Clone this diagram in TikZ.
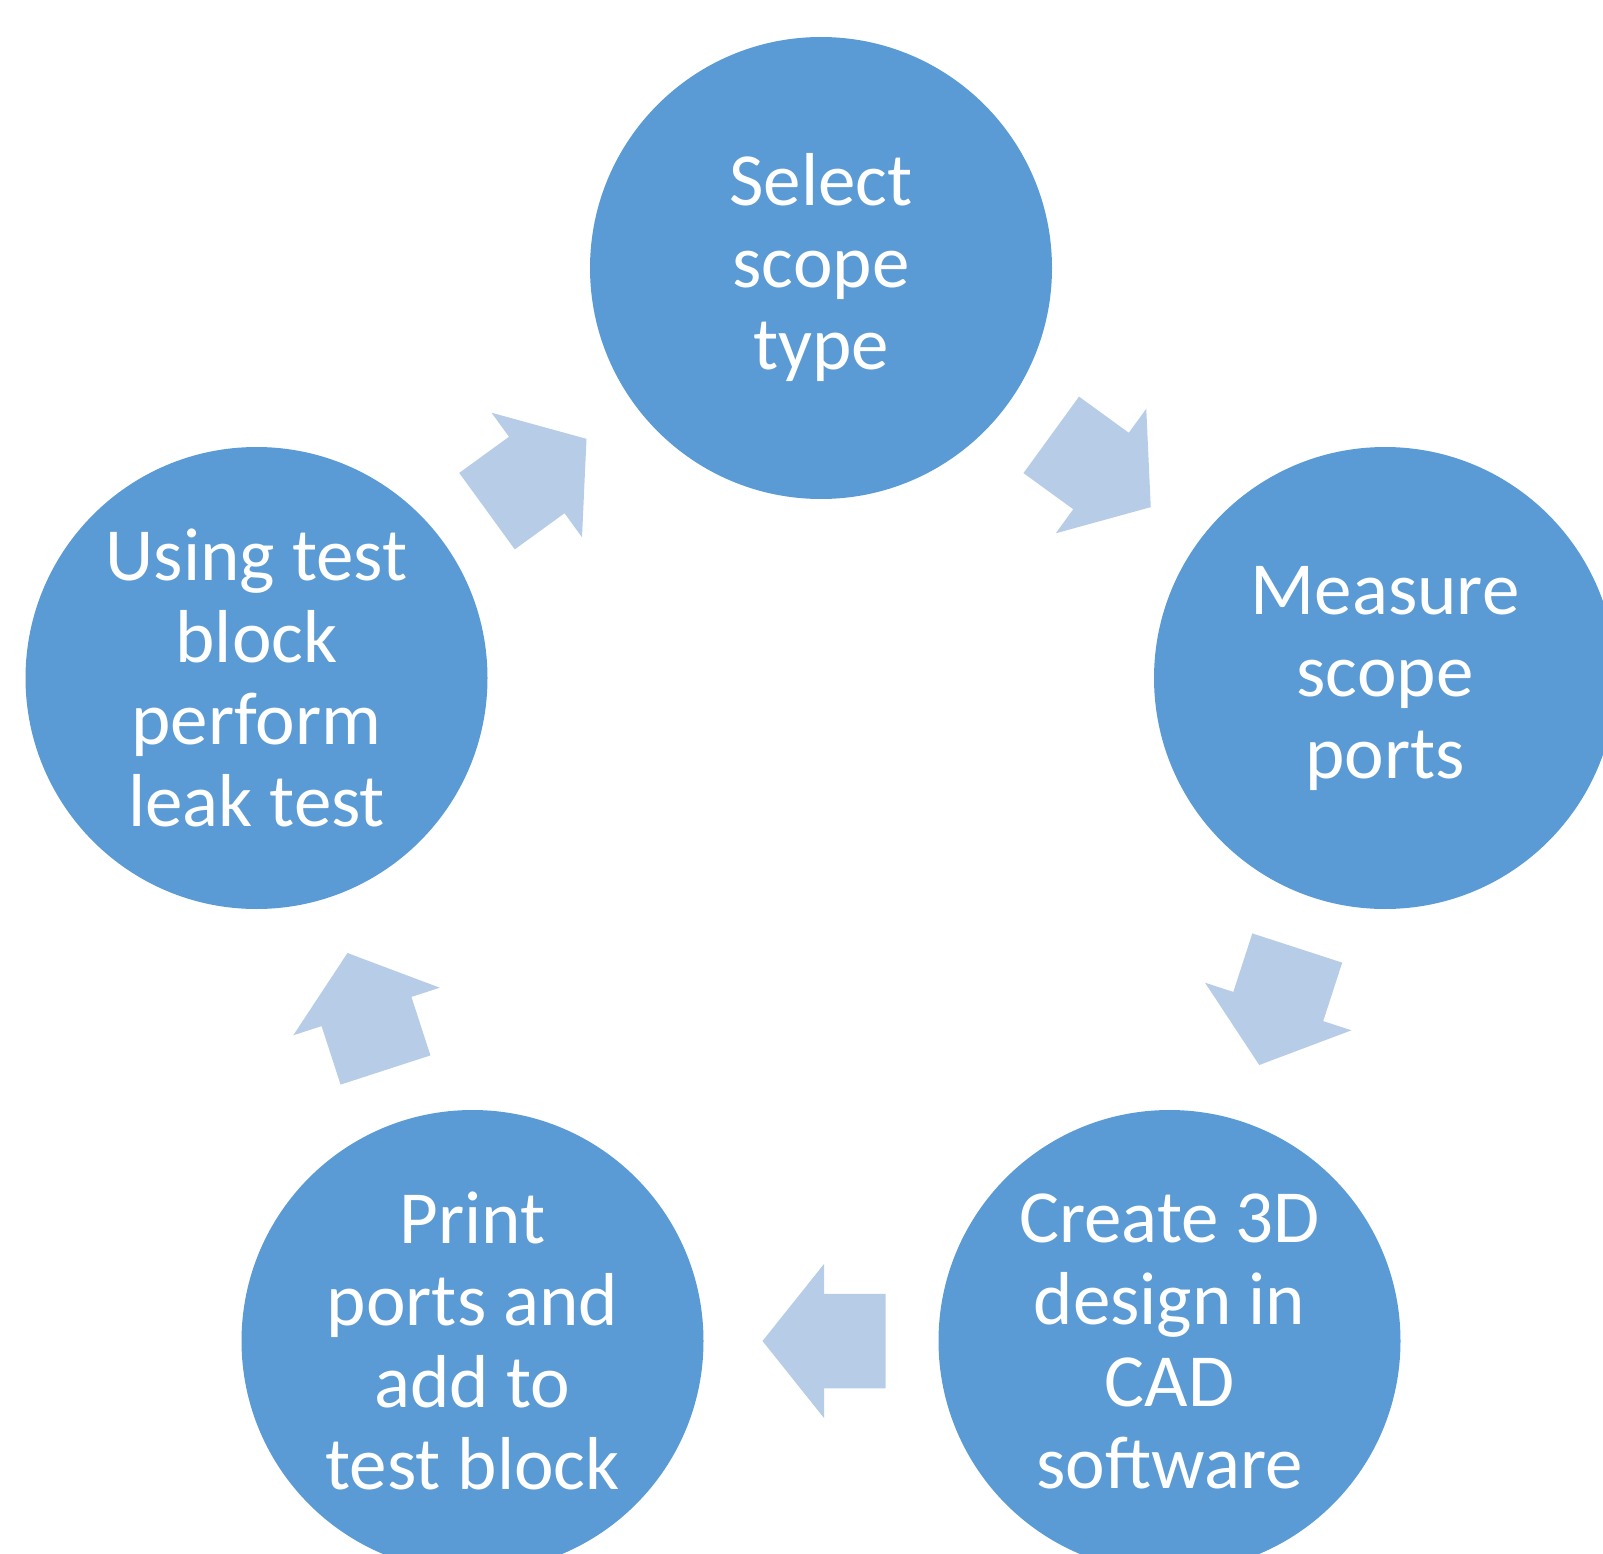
\documentclass[tikz,border=0pt]{standalone}
\usepackage{fontspec}
\setmainfont{Carlito}
\usetikzlibrary{calc}
\definecolor{circfill}{HTML}{5B9BD5}
\definecolor{arrfill}{HTML}{B7CCE7}
\tikzset{
  stepcircle/.style={circle, fill=circfill, draw=none, minimum size=462pt, inner sep=0pt,
    text=white, align=center, font=\fontsize{75}{82}\selectfont},
  blockarrow/.pic={\fill[arrfill] (-61.5,-47.25) -- (0,-47.25) -- (0,-77) -- (61.5,0)
     -- (0,77) -- (0,47.25) -- (-61.5,47.25) -- cycle;}
}
\begin{document}
\begin{tikzpicture}[x=1pt,y=-1pt]
\useasboundingbox (0,0) rectangle (1603,1554);
\clip (0,0) rectangle (1603,1554);
\node[stepcircle] (top) at (821,268) {Select\\scope\\type};
\node[stepcircle] (right) at (1385,678) {Measure\\scope\\ports};
\node[stepcircle] (br) at (1169.5,1341) {Create 3D\\design in\\CAD\\software};
\node[stepcircle] (bl) at (472.5,1341) {Print\\ports and\\add to\\test block};
\node[stepcircle] (left) at (256.5,678) {Using test\\block\\perform\\leak test};
\pic[rotate=-36] at ($(top)!0.5!(right)+(-2,-2)$) {blockarrow};
\pic[rotate=-108] at ($(right)!0.5!(br)+(1,-3)$) {blockarrow};
\pic[rotate=180] at ($(br)!0.5!(bl)+(3,0)$) {blockarrow};
\pic[rotate=108] at ($(bl)!0.5!(left)+(2,2)$) {blockarrow};
\pic[rotate=36] at ($(left)!0.5!(top)+(-2,2)$) {blockarrow};
\end{tikzpicture}
\end{document}
